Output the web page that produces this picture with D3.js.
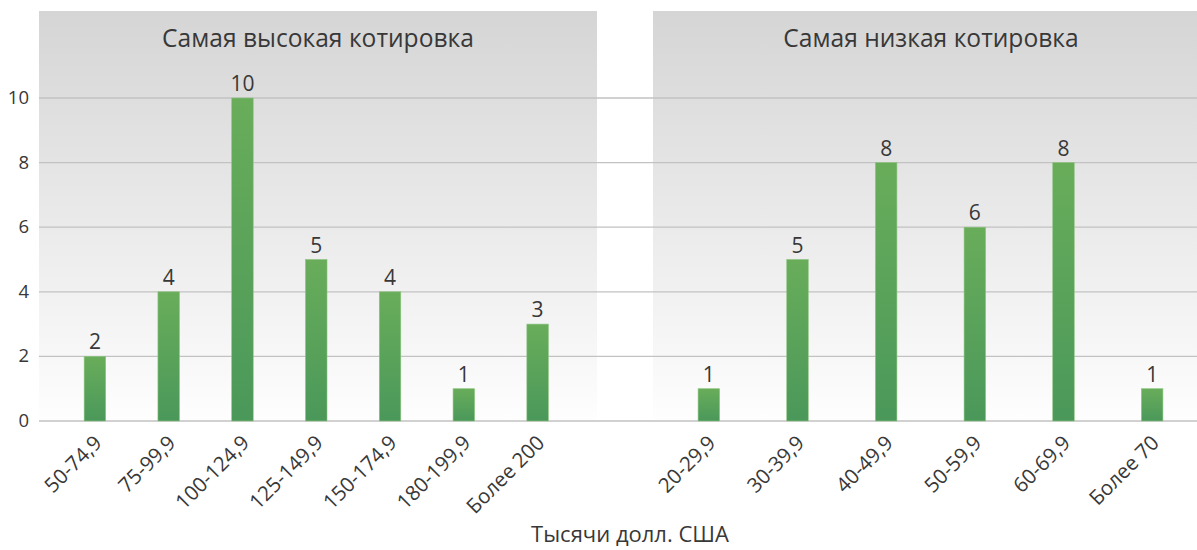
<!DOCTYPE html>
<html><head><meta charset="utf-8">
<script src="https://cdn.jsdelivr.net/npm/d3@7"></script>
<style>
html,body{margin:0;padding:0;background:#fff;}
svg{display:block;}
text{font-family:"Open Sans","Noto Sans",sans-serif;fill:#383838;}
</style></head>
<body>
<svg id="chart" width="1197" height="550"></svg>
<script>
const leftCategories = ["50-74,9","75-99,9","100-124,9","125-149,9","150-174,9","180-199,9","Более 200"];
const leftValues = [2,4,10,5,4,1,3];
const rightCategories = ["20-29,9","30-39,9","40-49,9","50-59,9","60-69,9","Более 70"];
const rightValues = [1,5,8,6,8,1];
const yTickValues = [0,2,4,6,8,10];
const panelTitles = ["Самая высокая котировка","Самая низкая котировка"];
const axisTitle = "Тысячи долл. США";

const W = 1197, H = 550;
const svg = d3.select("#chart");
const y = d3.scaleLinear().domain([0,10]).range([421,98]);
const panelTop = 11;

const defs = svg.append("defs");
const bg = defs.append("linearGradient").attr("id","bg").attr("x1",0).attr("y1",0).attr("x2",0).attr("y2",1);
bg.append("stop").attr("offset","0%").attr("stop-color","#d5d5d5");
bg.append("stop").attr("offset","100%").attr("stop-color","#fefefe");
const bar = defs.append("linearGradient").attr("id","bar").attr("x1",0).attr("y1",0).attr("x2",0).attr("y2",1);
bar.append("stop").attr("offset","0%").attr("stop-color","#69ad5a");
bar.append("stop").attr("offset","100%").attr("stop-color","#4a985a");

const panels = [
  {cats:leftCategories, vals:leftValues, title:panelTitles[0], bg:[39,597], band:[58,574.5], titleX:318},
  {cats:rightCategories, vals:rightValues, title:panelTitles[1], bg:[653,1197], band:[664.5,1196.5], titleX:931}
];

// panel backgrounds
panels.forEach(p=>{
  svg.append("rect").attr("x",p.bg[0]).attr("y",panelTop)
    .attr("width",p.bg[1]-p.bg[0]).attr("height",y(0)-panelTop)
    .attr("fill","url(#bg)");
});

// gridlines + y axis labels
const yAxis = d3.axisLeft(y).tickValues(yTickValues).tickSize(0).tickPadding(0);
const gy = svg.append("g").attr("transform","translate(29,0)").call(yAxis);
gy.select(".domain").remove();
gy.selectAll("text").attr("font-size","18.5px").attr("fill","#333")
  .style("font-family",'"Open Sans","Noto Sans",sans-serif').attr("dy","0.3em");

svg.append("g").selectAll("line").data(yTickValues).join("line")
  .attr("x1",39).attr("x2",W).attr("y1",d=>y(d)).attr("y2",d=>y(d))
  .attr("stroke","#c2c2c2").attr("stroke-width",1.3);

const barW = 21.5;
panels.forEach(p=>{
  const x = d3.scaleBand().domain(p.cats).range(p.band);
  const g = svg.append("g");
  const data = p.cats.map((c,i)=>({c, v:p.vals[i]}));
  g.selectAll("rect").data(data).join("rect")
    .attr("x",d=>x(d.c)+x.bandwidth()/2-barW/2)
    .attr("y",d=>y(d.v)).attr("width",barW).attr("height",d=>y(0)-y(d.v))
    .attr("fill","url(#bar)").attr("stroke","#8cc47f").attr("stroke-width",0.6);
  g.selectAll("text.val").data(data).join("text").attr("class","val")
    .attr("x",d=>x(d.c)+x.bandwidth()/2).attr("y",d=>y(d.v)-7)
    .attr("text-anchor","middle").attr("font-size","21px").attr("fill","#3c3c3c")
    .text(d=>d.v);
  // category labels
  const xAxis = d3.axisBottom(x).tickSize(0).tickPadding(0);
  const gx = svg.append("g").attr("transform",`translate(0,${y(0)})`).call(xAxis);
  gx.select(".domain").remove();
  gx.selectAll(".tick text")
    .style("font-family",'"Open Sans","Noto Sans",sans-serif')
    .attr("font-size","20.5px").attr("fill","#333")
    .attr("text-anchor","end").attr("y",0).attr("dy","0.35em")
    .attr("transform","translate(3,18) rotate(-45)");
  // title
  svg.append("text").attr("x",p.titleX).attr("y",47).attr("text-anchor","middle")
    .attr("font-size","24.6px").attr("fill","#333").text(p.title);
});

svg.append("text").attr("x",630).attr("y",542).attr("text-anchor","middle")
  .attr("font-size","22px").attr("fill","#333").text(axisTitle);
</script>
</body></html>
